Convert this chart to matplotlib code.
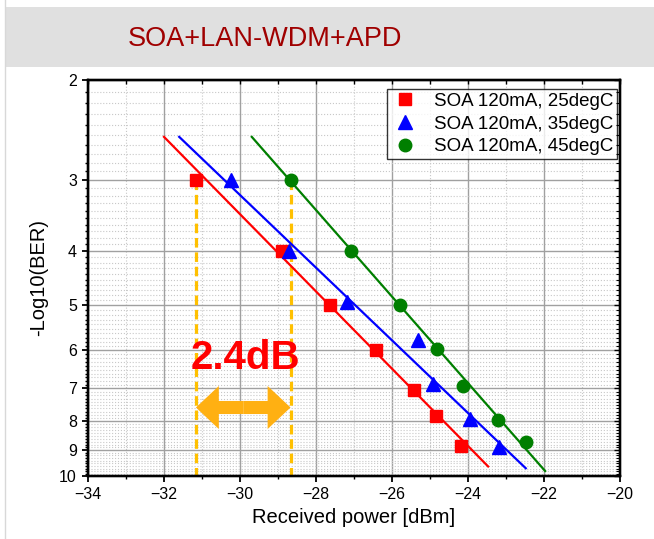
import numpy as np
import matplotlib.pyplot as plt
from matplotlib.ticker import FixedLocator, FixedFormatter, NullFormatter
from matplotlib.patches import Rectangle
from matplotlib.lines import Line2D

plt.rcParams['font.family'] = ['Liberation Sans', 'DejaVu Sans']

# measured points (received power [dBm], -log10(BER))
red_x = [-31.16, -28.89, -27.63, -26.42, -25.42, -24.84, -24.18]
red_y = [3.0, 4.0, 5.0, 6.0, 7.04, 7.85, 8.87]
blue_x = [-30.25, -28.72, -27.18, -25.31, -24.91, -23.95, -23.18]
blue_y = [3.0, 4.0, 4.93, 5.76, 6.87, 7.92, 8.89]
green_x = [-28.67, -27.07, -25.80, -24.82, -24.12, -23.20, -22.47]
green_y = [3.0, 4.0, 5.0, 5.98, 6.94, 7.96, 8.71]

# linear fit lines (end points)
red_fit_x = [-32.0, -23.47]
red_fit_y = [2.52, 9.62]
blue_fit_x = [-31.6, -22.48]
blue_fit_y = [2.52, 9.69]
green_fit_x = [-29.69, -21.97]
green_fit_y = [2.52, 9.80]

labels = ['SOA 120mA, 25degC', 'SOA 120mA, 35degC', 'SOA 120mA, 45degC']

# penalty markers
pen_x = [-31.16, -28.67]
pen_y0 = 3.0
pen_text = '2.4dB'
pen_arrow_y = 7.57
pen_text_y = 6.2

y_major = [2, 3, 4, 5, 6, 7, 8, 9, 10]
y_minor = [round(v, 1) for v in np.arange(2.0, 10.0, 0.1) if abs(v - round(v)) > 1e-6]

fig = plt.figure(figsize=(6.54, 5.39), dpi=100)

# title band
fig.patches.append(Rectangle((5 / 654, 1 - 67 / 539), 1, 60 / 539, transform=fig.transFigure,
                             facecolor='#e0e0e0', edgecolor='none', zorder=0))
fig.lines.append(Line2D([5 / 654, 5 / 654], [0, 1], transform=fig.transFigure,
                        color='#d8d8d8', lw=1))
fig.text(265 / 654, 1 - 39 / 539, 'SOA+LAN-WDM+APD', color='#a00000', fontsize=19.5,
         ha='center', va='center')

ax = fig.add_axes([88 / 654, 1 - 476 / 539, 532 / 654, 396 / 539])
ax.set_yscale('log')
ax.set_xlim(-34, -20)
ax.set_ylim(10, 2)

ax.yaxis.set_major_locator(FixedLocator(y_major))
ax.yaxis.set_major_formatter(FixedFormatter([str(v) for v in y_major]))
ax.yaxis.set_minor_locator(FixedLocator(y_minor))
ax.yaxis.set_minor_formatter(NullFormatter())
ax.set_xticks(np.arange(-34, -19, 2))
ax.set_xticks(np.arange(-33, -20, 2), minor=True)

ax.grid(True, which='major', color='#a0a0a0', lw=1.0, ls='-')
ax.grid(True, which='minor', color='#c8c8c8', lw=0.8, ls=':')
ax.set_axisbelow(True)

ax.tick_params(which='major', direction='out', length=4.5, width=1.3, labelsize=11.5, colors='black')
ax.tick_params(which='minor', direction='out', length=2.5, width=1.0)
for s in ax.spines.values():
    s.set_linewidth(1.6)

# fit lines
ax.plot(red_fit_x, red_fit_y, color='#ff0000', lw=1.6, zorder=3)
ax.plot(blue_fit_x, blue_fit_y, color='#0000ff', lw=1.6, zorder=3)
ax.plot(green_fit_x, green_fit_y, color='#007f00', lw=1.6, zorder=3)

# dashed penalty lines
ax.vlines(pen_x, pen_y0, 10, colors='#ffc000', lw=2.3, linestyles=(0, (3, 1.5)), zorder=2)

# markers
ax.plot(red_x, red_y, 's', color='#ff0000', ms=8.5, ls='none', label=labels[0], zorder=4)
ax.plot(blue_x, blue_y, '^', color='#0000ff', ms=10, ls='none', label=labels[1], zorder=4)
ax.plot(green_x, green_y, 'o', color='#007f00', ms=9, ls='none', label=labels[2], zorder=4)

# double arrow
mid = (pen_x[0] + pen_x[1]) / 2
for end in pen_x:
    ax.annotate('', xy=(end, pen_arrow_y), xytext=(mid, pen_arrow_y),
                arrowprops=dict(arrowstyle='simple,head_length=1.65,head_width=3.1,tail_width=0.94',
                                mutation_scale=10, color='#ffb012', lw=0,
                                shrinkA=0, shrinkB=0), zorder=5)
ax.text(-29.85, pen_text_y, pen_text, color='#ff0000', fontsize=29, fontweight='bold',
        ha='center', va='center', zorder=6)

ax.set_xlabel('Received power [dBm]', fontsize=14.5, labelpad=4)
ax.set_ylabel('-Log10(BER)', fontsize=14.5, labelpad=8)

leg = ax.legend(loc='upper right', bbox_to_anchor=(0.9944, 0.977), fontsize=13.5,
                frameon=True, fancybox=False, borderaxespad=0, handletextpad=0.8,
                labelspacing=0.3, borderpad=0.2, handlelength=1.5)
leg.get_frame().set_edgecolor('black')
leg.get_frame().set_linewidth(1.0)

# top/right ticks pointing inward
axt = ax.twiny()
axt.set_xlim(ax.get_xlim())
axt.set_xticks(np.arange(-34, -19, 2))
axt.set_xticks(np.arange(-33, -20, 2), minor=True)
axt.tick_params(which='both', direction='in', length=3, width=1.0, labeltop=False)
axr = ax.twinx()
axr.set_yscale('log')
axr.set_ylim(10, 2)
axr.yaxis.set_major_locator(FixedLocator(y_major))
axr.yaxis.set_minor_locator(FixedLocator(y_minor))
axr.yaxis.set_major_formatter(NullFormatter())
axr.yaxis.set_minor_formatter(NullFormatter())
axr.tick_params(which='major', direction='in', length=4, width=1.0, labelright=False)
axr.tick_params(which='minor', direction='in', length=3, width=0.8)
for a in (axt, axr):
    for s in a.spines.values():
        s.set_linewidth(1.6)

fig.savefig('out.png', dpi=100)
